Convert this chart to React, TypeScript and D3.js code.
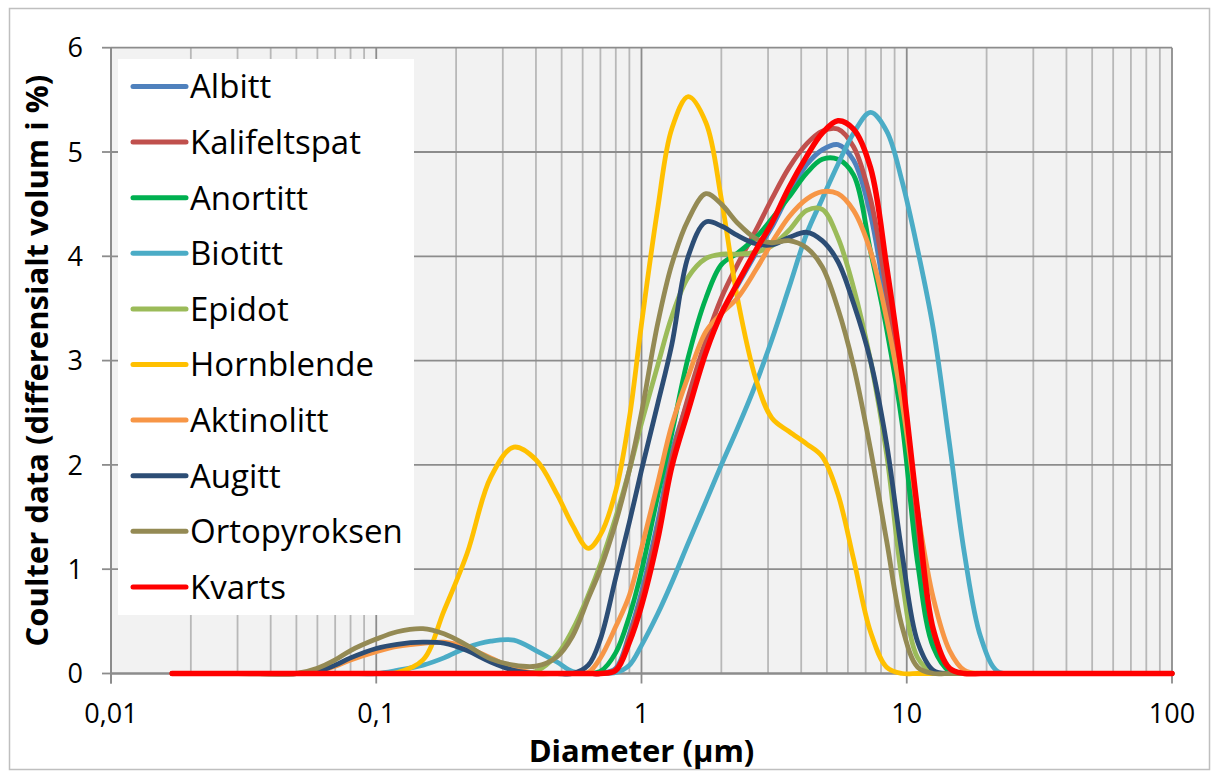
import React from 'react';
import * as d3 from 'd3';

// Particle diameters (µm) of the size bins
const diameters = [0.017, 0.03, 0.05, 0.06, 0.07, 0.08, 0.1, 0.12, 0.15, 0.18, 0.22, 0.27, 0.33, 0.4, 0.48, 0.55, 0.63, 0.7, 0.8, 0.9, 1.0, 1.15, 1.3, 1.5, 1.75, 2.0, 2.3, 2.7, 3.1, 3.6, 4.2, 4.8, 5.5, 6.3, 7.3, 8.4, 9.6, 11, 12.6, 14.5, 16.5, 19, 22, 26, 35, 50, 100];

// Differential volume (%) per mineral
const albitt = [0, 0, 0, 0, 0, 0, 0, 0, 0, 0, 0, 0, 0, 0, 0, 0, 0, 0, 0.05, 0.38, 0.78, 1.45, 2.12, 2.62, 3.15, 3.45, 3.72, 4.03, 4.28, 4.6, 4.88, 5.02, 5.07, 4.92, 4.4, 3.5, 2.5, 1.22, 0.33, 0.03, 0, 0, 0, 0, 0, 0, 0];
const kalifeltspat = [0, 0, 0, 0, 0, 0, 0, 0, 0, 0, 0, 0, 0, 0, 0, 0, 0, 0, 0.04, 0.35, 0.72, 1.38, 2.06, 2.65, 3.2, 3.6, 3.92, 4.25, 4.55, 4.85, 5.08, 5.2, 5.22, 5.05, 4.55, 3.65, 2.6, 1.3, 0.35, 0.03, 0, 0, 0, 0, 0, 0, 0];
const anortitt = [0, 0, 0, 0, 0, 0, 0, 0, 0, 0, 0, 0, 0, 0, 0, 0, 0, 0.02, 0.2, 0.55, 0.98, 1.7, 2.3, 3.03, 3.6, 3.92, 4.03, 4.18, 4.36, 4.57, 4.8, 4.93, 4.93, 4.78, 4.05, 3.3, 2.4, 1.05, 0.25, 0.02, 0, 0, 0, 0, 0, 0, 0];
const biotitt = [0, 0, 0, 0, 0, 0, 0, 0.03, 0.08, 0.15, 0.25, 0.31, 0.32, 0.22, 0.11, 0.02, 0, 0, 0.01, 0.08, 0.27, 0.57, 0.87, 1.25, 1.65, 2.0, 2.35, 2.78, 3.2, 3.7, 4.22, 4.55, 4.88, 5.18, 5.38, 5.2, 4.72, 4.06, 3.3, 2.2, 1.15, 0.35, 0.02, 0, 0, 0, 0];
const epidot = [0, 0, 0, 0, 0, 0, 0, 0, 0, 0, 0, 0, 0, 0.02, 0.18, 0.42, 0.75, 1.05, 1.5, 1.95, 2.4, 2.95, 3.42, 3.8, 3.98, 4.02, 4.02, 4.04, 4.1, 4.25, 4.44, 4.45, 4.18, 3.7, 3.0, 2.1, 0.9, 0.15, 0.01, 0, 0, 0, 0, 0, 0, 0, 0];
const hornblende = [0, 0, 0, 0, 0, 0, 0, 0.01, 0.13, 0.6, 1.15, 1.88, 2.17, 2.05, 1.72, 1.42, 1.2, 1.33, 1.75, 2.45, 3.35, 4.45, 5.22, 5.53, 5.28, 4.55, 3.6, 2.82, 2.45, 2.32, 2.2, 2.08, 1.72, 1.1, 0.4, 0.06, 0, 0, 0, 0, 0, 0, 0, 0, 0, 0, 0];
const aktinolitt = [0, 0, 0, 0.02, 0.07, 0.13, 0.21, 0.26, 0.29, 0.3, 0.25, 0.15, 0.05, 0, 0, 0, 0.01, 0.15, 0.45, 0.75, 1.2, 1.82, 2.38, 2.85, 3.28, 3.45, 3.6, 3.87, 4.13, 4.38, 4.55, 4.62, 4.6, 4.44, 4.05, 3.4, 2.6, 1.55, 0.72, 0.22, 0.03, 0, 0, 0, 0, 0, 0];
const augitt = [0, 0, 0, 0.02, 0.08, 0.15, 0.24, 0.28, 0.3, 0.29, 0.22, 0.11, 0.03, 0, 0, 0, 0.08, 0.33, 0.92, 1.45, 1.95, 2.58, 3.15, 4.0, 4.33, 4.29, 4.2, 4.12, 4.11, 4.18, 4.23, 4.15, 3.95, 3.55, 3.0, 2.2, 1.15, 0.3, 0.03, 0, 0, 0, 0, 0, 0, 0, 0];
const ortopyroksen = [0, 0, 0, 0.05, 0.13, 0.22, 0.33, 0.4, 0.43, 0.38, 0.27, 0.14, 0.08, 0.07, 0.16, 0.36, 0.72, 1.0, 1.45, 1.95, 2.5, 3.35, 3.92, 4.35, 4.6, 4.5, 4.32, 4.17, 4.13, 4.15, 4.08, 3.9, 3.5, 2.95, 2.15, 1.27, 0.45, 0.06, 0, 0, 0, 0, 0, 0, 0, 0, 0];
const kvarts = [0, 0, 0, 0, 0, 0, 0, 0, 0, 0, 0, 0, 0, 0, 0, 0, 0, 0, 0.03, 0.3, 0.65, 1.28, 1.98, 2.52, 3.08, 3.45, 3.74, 4.06, 4.32, 4.66, 4.96, 5.18, 5.3, 5.22, 4.85, 3.9, 2.85, 1.55, 0.42, 0.05, 0, 0, 0, 0, 0, 0, 0];

const seriesNames = ['Albitt', 'Kalifeltspat', 'Anortitt', 'Biotitt', 'Epidot', 'Hornblende', 'Aktinolitt', 'Augitt', 'Ortopyroksen', 'Kvarts'];
const seriesValues = [albitt, kalifeltspat, anortitt, biotitt, epidot, hornblende, aktinolitt, augitt, ortopyroksen, kvarts];
const seriesColors = ['#4F81BD', '#C0504D', '#00B050', '#4BACC6', '#9BBB59', '#FFC000', '#F79646', '#2C4D75', '#948A54', '#FF0000'];

const xTickValues = [0.01, 0.1, 1, 10, 100];
const xTickLabels = ['0,01', '0,1', '1', '10', '100'];
const yTickValues = [0, 1, 2, 3, 4, 5, 6];

const FONT = '"Open Sans", "DejaVu Sans", sans-serif';

export default function App() {
  const W = 1214;
  const H = 772;
  const left = 111;
  const right = 1172;
  const top = 47.7;
  const bottom = 673.5;

  const x = d3.scaleLog().domain([0.01, 100]).range([left, right]);
  const y = d3.scaleLinear().domain([0, 6]).range([bottom, top]);

  // smoothed line through the bin values
  const line = d3
    .line<number>()
    .x((_, i) => x(diameters[i]))
    .y((v) => y(v))
    .curve(d3.curveCatmullRom.alpha(0.5));

  const gridX = x.ticks();
  const isMajor = (t: number) => Math.abs(Math.log10(t) - Math.round(Math.log10(t))) < 1e-6;

  const legendX = 118;
  const legendY = 59;
  const legendW = 296;
  const legendH = 556;
  const legendFirst = 86.5;
  const legendStep = 55.6;

  return (
    <svg
      width={W}
      height={H}
      viewBox={`0 0 ${W} ${H}`}
      style={{ position: 'absolute', left: 0, top: 0, background: '#ffffff' }}
    >
      {/* chart frame */}
      <rect x={9.5} y={8.5} width={1200} height={761} fill="#ffffff" stroke="#bfbfbf" strokeWidth={1.5} />

      {/* plot area */}
      <rect x={left} y={top} width={right - left} height={bottom - top} fill="#f2f2f2" />

      {/* vertical grid: minor then major */}
      {gridX.filter((t) => !isMajor(t)).map((t) => (
        <line key={`mg${t}`} x1={x(t)} x2={x(t)} y1={top} y2={bottom} stroke="#b8b8b8" strokeWidth={1.8} />
      ))}
      {gridX.filter((t) => isMajor(t)).map((t) => (
        <line key={`Mg${t}`} x1={x(t)} x2={x(t)} y1={top} y2={bottom} stroke="#8c8c8c" strokeWidth={1.8} />
      ))}
      {/* horizontal grid */}
      {yTickValues.map((v) => (
        <line key={`hg${v}`} x1={left} x2={right} y1={y(v)} y2={y(v)} stroke="#8c8c8c" strokeWidth={1.8} />
      ))}

      {/* axes */}
      <line x1={left} x2={left} y1={top} y2={bottom + 10} stroke="#8c8c8c" strokeWidth={1.8} />
      <line x1={left} x2={right} y1={bottom} y2={bottom} stroke="#8c8c8c" strokeWidth={1.8} />
      {yTickValues.map((v) => (
        <line key={`yt${v}`} x1={left - 9} x2={left} y1={y(v)} y2={y(v)} stroke="#8c8c8c" strokeWidth={1.8} />
      ))}
      {xTickValues.map((t) => (
        <line key={`xt${t}`} x1={x(t)} x2={x(t)} y1={bottom} y2={bottom + 10} stroke="#8c8c8c" strokeWidth={1.8} />
      ))}

      {/* tick labels */}
      {yTickValues.map((v) => (
        <text key={`yl${v}`} x={83} y={y(v)} dy="0.36em" textAnchor="end" fontFamily={FONT} fontSize={27} fill="#000">
          {v}
        </text>
      ))}
      {xTickValues.map((t, i) => (
        <text key={`xl${t}`} x={x(t)} y={723} textAnchor="middle" fontFamily={FONT} fontSize={27} fill="#000">
          {xTickLabels[i]}
        </text>
      ))}

      {/* axis titles */}
      <text x={(left + right) / 2} y={762} textAnchor="middle" fontFamily={FONT} fontSize={31} fontWeight="bold" fill="#000">
        Diameter (µm)
      </text>
      <text
        transform={`translate(48, ${(top + bottom) / 2}) rotate(-90)`}
        textAnchor="middle"
        fontFamily={FONT}
        fontSize={31}
        fontWeight="bold"
        fill="#000"
      >
        Coulter data (differensialt volum i %)
      </text>

      {/* series */}
      {seriesValues.map((vals, i) => (
        <path
          key={seriesNames[i]}
          d={line(vals) || ''}
          fill="none"
          stroke={seriesColors[i]}
          strokeWidth={i === 9 ? 5.5 : 4.8}
          strokeLinejoin="round"
          strokeLinecap="round"
        />
      ))}

      {/* legend */}
      <rect x={legendX} y={legendY} width={legendW} height={legendH} fill="#ffffff" />
      {seriesNames.map((name, i) => {
        const cy = legendFirst + i * legendStep;
        return (
          <g key={`lg${name}`}>
            <line x1={133} x2={186} y1={cy} y2={cy} stroke={seriesColors[i]} strokeWidth={5} strokeLinecap="round" />
            <text x={190} y={cy} dy="0.36em" fontFamily={FONT} fontSize={33} fill="#000">
              {name}
            </text>
          </g>
        );
      })}
    </svg>
  );
}
